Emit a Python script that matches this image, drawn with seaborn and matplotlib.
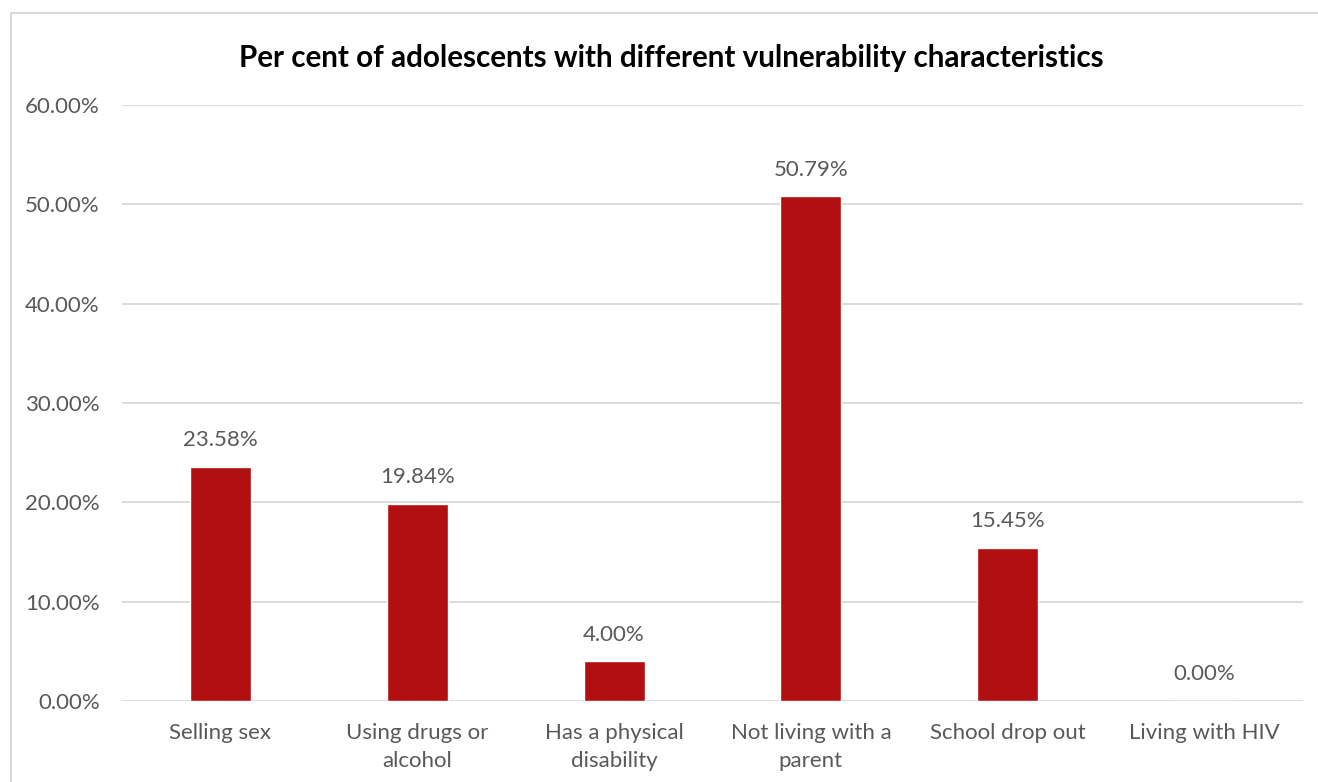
import matplotlib
matplotlib.use("Agg")
import matplotlib.pyplot as plt
from matplotlib.lines import Line2D
import seaborn as sns
import pandas as pd

categories = [
    "Selling sex",
    "Using drugs or\nalcohol",
    "Has a physical\ndisability",
    "Not living with a\nparent",
    "School drop out",
    "Living with HIV",
]
percentages = [23.58, 19.84, 4.00, 50.79, 15.45, 0.00]
y_ticks = [0, 10, 20, 30, 40, 50, 60]
title = "Per cent of adolescents with different vulnerability characteristics"

sns.set_style("white")
plt.rcParams["font.family"] = ["Lato", "DejaVu Sans"]

TEXT = "#595959"
BAR = "#B10F12"
GRID = "#D9D9D9"

W, H = 1318, 782
fig = plt.figure(figsize=(W / 100, H / 100), dpi=100)

# Outer chart frame (left and top edges)
fig.add_artist(Line2D([11 / W, 11 / W], [0, 1 - 13 / H], transform=fig.transFigure,
                      color="#D9D9D9", lw=1.5))
fig.add_artist(Line2D([11 / W, 1], [1 - 13 / H, 1 - 13 / H], transform=fig.transFigure,
                      color="#D9D9D9", lw=1.5))

left, right = 122 / W, 1303 / W
bottom, top = (H - 701) / H, (H - 105) / H
ax = fig.add_axes([left, bottom, right - left, top - bottom])

df = pd.DataFrame({"category": categories, "value": percentages})
sns.barplot(data=df, x="category", y="value", color=BAR, width=0.31,
            saturation=1, ax=ax, zorder=3)

ax.set_ylim(0, 60)
ax.set_xlim(-0.5, len(categories) - 0.5)
ax.set_yticks(y_ticks)
ax.set_yticklabels([f"{v:.2f}%" for v in y_ticks])
ax.yaxis.grid(True, color=GRID, lw=1.3, zorder=0)
ax.set_axisbelow(True)
for s in ax.spines.values():
    s.set_visible(False)
ax.tick_params(axis="y", length=0, pad=16, labelsize=16, labelcolor=TEXT)
ax.tick_params(axis="x", length=0, pad=16, labelsize=16, labelcolor=TEXT)
for lbl in ax.get_xticklabels():
    lbl.set_linespacing(1.5)
ax.set_xlabel("")
ax.set_ylabel("")

for i, v in enumerate(percentages):
    ax.annotate(f"{v:.2f}%", (i, v), xytext=(0, 12), textcoords="offset points",
                ha="center", va="bottom", fontsize=16, color=TEXT)

fig.text(671 / W, 1 - 58 / H, title, ha="center", va="center",
         fontsize=21.3, fontweight="bold", color="#000000")

fig.savefig("out.png", dpi=100)
